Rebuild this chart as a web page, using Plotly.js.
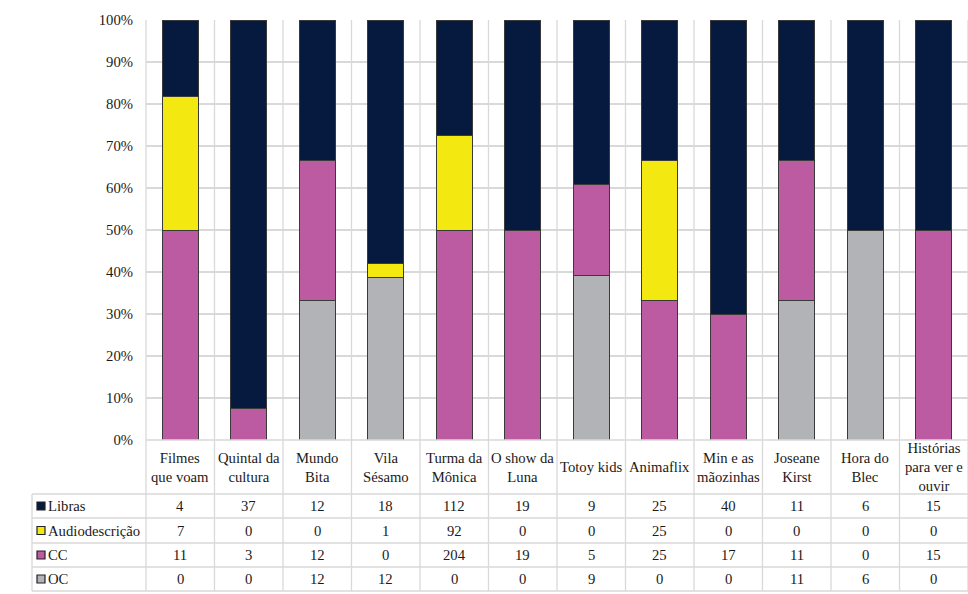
<!DOCTYPE html>
<html>
<head>
<meta charset="utf-8">
<script src="https://cdn.plot.ly/plotly-3.0.1.min.js"></script>
<style>html,body{margin:0;padding:0;background:#fff;}#chart{width:968px;height:594px;}</style>
</head>
<body>
<div id="chart"></div>
<script>
const categories = ["Filmes que voam","Quintal da cultura","Mundo Bita","Vila Sésamo","Turma da Mônica","O show da Luna","Totoy kids","Animaflix","Min e as mãozinhas","Joseane Kirst","Hora do Blec","Histórias para ver e ouvir"];
const categoryLabels = ["Filmes<br>que voam","Quintal da<br>cultura","Mundo<br>Bita","Vila<br>Sésamo","Turma da<br>Mônica","O show da<br>Luna","Totoy kids","Animaflix","Min e as<br>mãozinhas","Joseane<br>Kirst","Hora do<br>Blec","Histórias<br>para ver e<br>ouvir"];
const libras = [4,37,12,18,112,19,9,25,40,11,6,15];
const audiodescricao = [7,0,0,1,92,0,0,25,0,0,0,0];
const cc = [11,3,12,0,204,19,5,25,17,11,0,15];
const oc = [0,0,12,12,0,0,9,0,0,11,6,0];
const seriesNames = ["Libras","Audiodescrição","CC","OC"];
const seriesValues = [libras, audiodescricao, cc, oc];
const colors = ["#061a40","#f4e811","#bd5ba2","#b2b3b6"];

const FONT = "Liberation Serif, Times New Roman, serif";
const FS = 14.7;
const W = 968, H = 594, L = 146, R = 0, T = 20, B = 154;
const PW = W - L - R, PH = H - T - B;
const px2x = p => (p - L) / PW;
const py2y = p => (H - B - p) / PH;

const order = [3,2,1,0];
const traces = order.map(i => ({
  type: "bar",
  name: seriesNames[i],
  x: categories,
  y: seriesValues[i],
  marker: {color: colors[i], line: {color: "#3a3a3a", width: 1}},
  hoverinfo: "skip"
}));

const gridC = "#d9d9d9";
const shapes = [];
const annotations = [];
const rowLines = [494, 518, 543, 567, 591];
const rowCenters = [506, 530.5, 555, 579];
const n = categories.length;
for (let i = 0; i <= n; i++) {
  shapes.push({type: "line", xref: "paper", yref: "paper", x0: i / n, x1: i / n,
    y0: 1, y1: py2y(591), line: {color: gridC, width: 1.3}, layer: "below"});
}
shapes.push({type: "line", xref: "paper", yref: "paper", x0: px2x(32), x1: px2x(32),
  y0: py2y(494), y1: py2y(591), line: {color: gridC, width: 1.3}});
shapes.push({type: "line", xref: "paper", yref: "paper", x0: 0, x1: 1,
  y0: 0, y1: 0, line: {color: gridC, width: 1.3}});
rowLines.forEach(r => shapes.push({type: "line", xref: "paper", yref: "paper",
  x0: px2x(32), x1: 1, y0: py2y(r), y1: py2y(r), line: {color: gridC, width: 1.3}}));

categories.forEach((c, j) => annotations.push({xref: "x", yref: "paper", x: c, y: py2y(467),
  text: categoryLabels[j], showarrow: false, xanchor: "center", yanchor: "middle",
  font: {family: FONT, size: FS, color: "#1a1a1a"}}));

seriesNames.forEach((s, i) => {
  const cy = py2y(rowCenters[i]);
  shapes.push({type: "rect", xref: "paper", yref: "paper",
    x0: px2x(37), x1: px2x(45), y0: cy - 4 / PH, y1: cy + 4 / PH,
    fillcolor: colors[i], line: {color: "#222", width: 1.2}});
  annotations.push({xref: "paper", yref: "paper", x: px2x(46), y: cy, text: s,
    showarrow: false, xanchor: "left", yanchor: "middle",
    font: {family: FONT, size: FS, color: "#1a1a1a"}});
  categories.forEach((c, j) => annotations.push({xref: "x", yref: "paper", x: c, y: cy,
    text: String(seriesValues[i][j]), showarrow: false, xanchor: "center", yanchor: "middle",
    font: {family: FONT, size: FS, color: "#1a1a1a"}}));
});

const layout = {
  width: W, height: H,
  margin: {l: L, r: R, t: T, b: B, pad: 0},
  paper_bgcolor: "#fff", plot_bgcolor: "#fff",
  barmode: "stack", barnorm: "percent", bargap: 0.48,
  showlegend: false,
  font: {family: FONT, size: FS, color: "#1a1a1a"},
  xaxis: {type: "category", range: [-0.5, n - 0.5], showticklabels: false,
    showgrid: false, zeroline: false, showline: false, ticks: "", fixedrange: true},
  yaxis: {range: [0, 100], dtick: 10, ticksuffix: "%", showgrid: true, gridcolor: gridC,
    gridwidth: 1.3, zeroline: false, showline: false, ticks: "", ticklabelstandoff: 12,
    tickfont: {family: FONT, size: FS, color: "#1a1a1a"}, fixedrange: true},
  shapes: shapes,
  annotations: annotations
};

Plotly.newPlot("chart", traces, layout, {staticPlot: true, displayModeBar: false});
</script>
</body>
</html>
